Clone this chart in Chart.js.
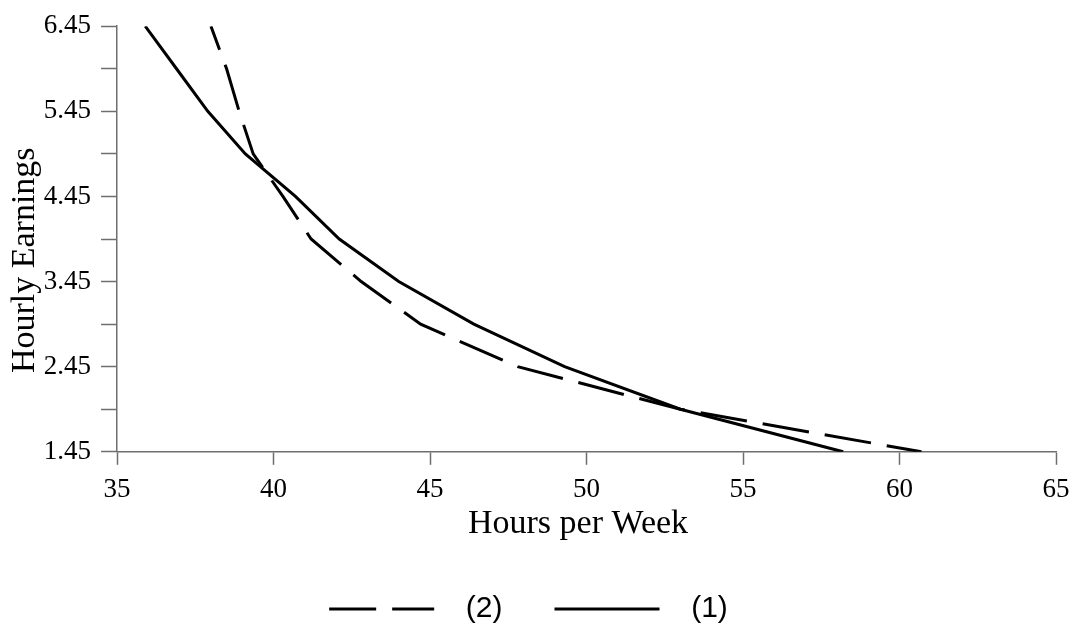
<!DOCTYPE html>
<html><head><meta charset="utf-8">
<script src="https://cdn.jsdelivr.net/npm/chart.js@4.4.1/dist/chart.umd.min.js"></script>
<style>html,body{margin:0;padding:0;background:#fff;} #wrap{width:1081px;height:630px;position:relative;}</style>
</head><body><div id="wrap"><canvas id="c"></canvas></div>
<script>
// Hourly earnings levels (y) at which each curve's hours were read
const earnings = [6.45, 5.95, 5.45, 4.95, 4.45, 3.95, 3.45, 2.95, 2.45, 1.95, 1.45];
// Series (1): solid line, hours per week
const hours1 = [35.9, 36.9, 37.9, 39.1, 40.7, 42.1, 44.0, 46.4, 49.3, 53.0, 58.2];
// Series (2): dashed line, hours per week
const hours2 = [38.0, 38.5, 38.9, 39.35, 40.3, 41.2, 42.8, 44.7, 47.8, 53.0, 60.7];
const seriesNames = ['(2)', '(1)'];
const xTickValues = [35, 40, 45, 50, 55, 60, 65];
const yTickValues = [1.45, 1.95, 2.45, 2.95, 3.45, 3.95, 4.45, 4.95, 5.45, 5.95, 6.45];
const yTickLabels = ['1.45', '', '2.45', '', '3.45', '', '4.45', '', '5.45', '', '6.45'];
const xTitle = 'Hours per Week';
const yTitle = 'Hourly Earnings';

const axisColor = '#6e6e6e';
const serif = 'Liberation Serif';

const ctx = document.getElementById('c').getContext('2d');
new Chart(ctx, {
  type: 'scatter',
  data: {
    datasets: [
      {
        label: '  ' + seriesNames[0],
        data: hours2.map((h, i) => ({x: h, y: earnings[i]})),
        showLine: true, borderColor: '#000', backgroundColor: '#000',
        borderWidth: 3, borderDash: [47, 16], borderDashOffset: 22, pointRadius: 0, tension: 0
      },
      {
        label: '  ' + seriesNames[1],
        data: hours1.map((h, i) => ({x: h, y: earnings[i]})),
        showLine: true, borderColor: '#000', backgroundColor: '#000',
        borderWidth: 3, pointRadius: 0, tension: 0
      }
    ]
  },
  options: {
    responsive: true,
    maintainAspectRatio: false,
    animation: false,
    layout: {padding: {top: 24, right: 25, bottom: -4, left: 1}},
    plugins: {
      tooltip: {enabled: false},
      legend: {
        position: 'bottom',
        labels: {
          usePointStyle: true, pointStyle: 'line', pointStyleWidth: 105,
          color: '#000', padding: 52,
          font: {family: 'Liberation Sans', size: 30},
          generateLabels: (chart) => {
            const items = Chart.defaults.plugins.legend.labels.generateLabels(chart);
            items.forEach(it => {
              const ds = chart.data.datasets[it.datasetIndex];
              it.lineDash = ds.borderDash || [];
              it.lineDashOffset = 0;
              it.lineWidth = ds.borderWidth;
              it.strokeStyle = '#000';
              it.pointStyle = 'line';
            });
            return items;
          }
        }
      }
    },
    scales: {
      x: {
        type: 'linear', min: 35, max: 65,
        afterBuildTicks: (axis) => { axis.ticks = xTickValues.map(v => ({value: v})); },
        grid: {drawOnChartArea: false, drawTicks: true, tickLength: 13, tickColor: axisColor, tickWidth: 1.5},
        border: {display: true, color: axisColor, width: 1.5},
        ticks: {color: '#000', padding: 9, font: {family: serif, size: 27}, maxRotation: 0},
        title: {display: true, text: xTitle + '  ', color: '#000', padding: {top: -12, bottom: -2}, font: {family: serif, size: 34}}
      },
      y: {
        type: 'linear', min: 1.45, max: 6.45,
        afterBuildTicks: (axis) => { axis.ticks = yTickValues.map(v => ({value: v})); },
        grid: {drawOnChartArea: false, drawTicks: true, tickLength: 16, tickColor: axisColor, tickWidth: 1.5},
        border: {display: true, color: axisColor, width: 1.5},
        ticks: {color: '#000', padding: 10, font: {family: serif, size: 27},
          callback: (value, index) => yTickLabels[index]},
        title: {display: true, text: yTitle + '     ', color: '#000', padding: {top: 4, bottom: -12}, font: {family: serif, size: 34}}
      }
    }
  }
});
</script>
</body></html>
